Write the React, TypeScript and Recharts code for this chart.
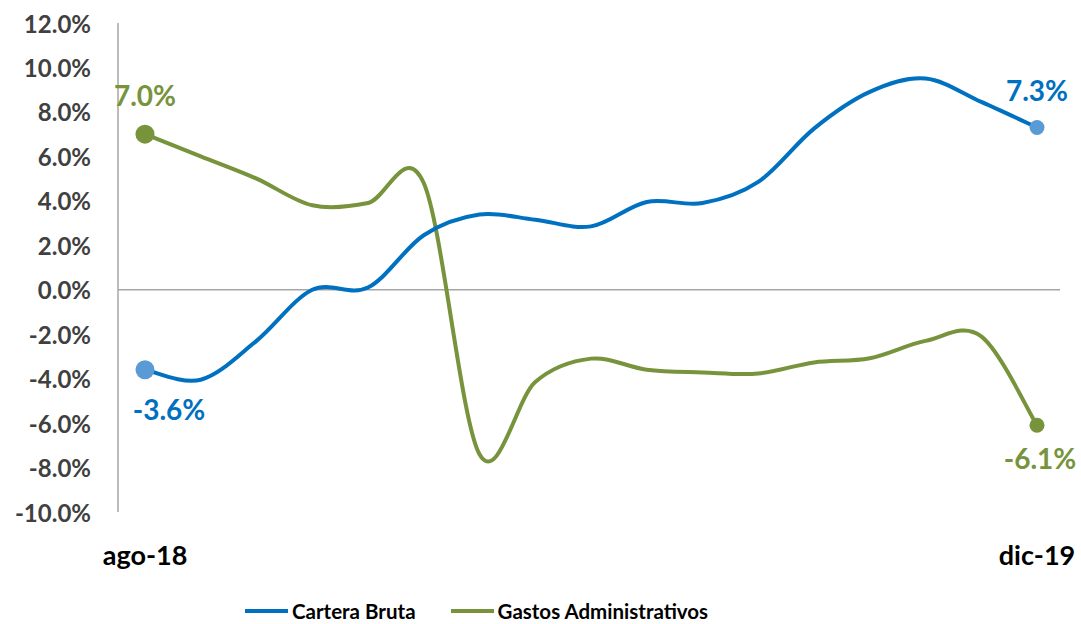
import React from 'react';
import { LineChart, Line, XAxis, YAxis, ReferenceLine, Legend, LabelList } from 'recharts';

const months = ['ago-18', 'sep-18', 'oct-18', 'nov-18', 'dic-18', 'ene-19', 'feb-19', 'mar-19', 'abr-19', 'may-19', 'jun-19', 'jul-19', 'ago-19', 'sep-19', 'oct-19', 'nov-19', 'dic-19'];
const carteraBruta = [-3.6, -4.05, -2.3, 0.0, 0.1, 2.45, 3.38, 3.15, 2.85, 3.95, 3.9, 4.85, 7.25, 8.9, 9.5, 8.45, 7.3];
const gastosAdministrativos = [7.0, 6.0, 5.0, 3.8, 3.9, 4.8, -7.4, -4.15, -3.1, -3.6, -3.72, -3.77, -3.27, -3.08, -2.3, -2.1, -6.1];
const yTicks = [-10, -8, -6, -4, -2, 0, 2, 4, 6, 8, 10, 12];
const xTicks = ['ago-18', 'dic-19'];

const BLUE = '#0070C0';
const BLUE_DOT = '#5B9BD5';
const GREEN = '#77933C';
const FONT = 'Lato, "Open Sans", sans-serif';

const data = months.map((m, i) => ({ month: m, cartera: carteraBruta[i], gastos: gastosAdministrativos[i] }));

function excelSmooth(context: any) {
  let pts: number[][] = [];
  return {
    areaStart() {},
    areaEnd() {},
    lineStart() {
      pts = [];
    },
    point(x: number, y: number) {
      pts.push([+x, +y]);
    },
    lineEnd() {
      const n = pts.length;
      if (!n) return;
      context.moveTo(pts[0][0], pts[0][1]);
      for (let i = 0; i < n - 1; i++) {
        const p0 = pts[i - 1] || pts[i];
        const p1 = pts[i];
        const p2 = pts[i + 1];
        const p3 = pts[i + 2] || p2;
        context.bezierCurveTo(
          p1[0] + (p2[0] - p0[0]) / 6,
          p1[1] + (p2[1] - p0[1]) / 6,
          p2[0] - (p3[0] - p1[0]) / 6,
          p2[1] - (p3[1] - p1[1]) / 6,
          p2[0],
          p2[1]
        );
      }
    },
  };
}

const YTick = (props: any) => {
  const { x, y, payload } = props;
  return (
    <text x={x - 27} y={y} textAnchor="end" dominantBaseline="central" fontFamily={FONT} fontWeight={700} fontSize={24} fill="#404040">
      {Number(payload.value).toFixed(1)}%
    </text>
  );
};

const XTick = (props: any) => {
  const { x, y, payload } = props;
  return (
    <text x={x} y={y + 42} textAnchor="middle" dominantBaseline="central" fontFamily={FONT} fontWeight={700} fontSize={27} fill="#000000">
      {payload.value}
    </text>
  );
};

const makeDot = (color: string) => (props: any) => {
  const { cx, cy, index } = props;
  const last = months.length - 1;
  if (index === 0) return <circle key={`d${index}`} cx={cx} cy={cy} r={9.5} fill={color} stroke="none" />;
  if (index === last) return <circle key={`d${index}`} cx={cx} cy={cy} r={7.5} fill={color} stroke="none" />;
  return <g key={`d${index}`} />;
};

const makeLabel = (color: string, first: [number, number], lastOff: [number, number]) => (props: any) => {
  const { x, y, value, index } = props;
  const last = months.length - 1;
  if (index !== 0 && index !== last) return null;
  const off = index === 0 ? first : lastOff;
  return (
    <text x={x + off[0]} y={y + off[1]} textAnchor="middle" dominantBaseline="central" fontFamily={FONT} fontWeight={700} fontSize={28} fill={color}>
      {Number(value).toFixed(1)}%
    </text>
  );
};

const LegendContent = () => (
  <div style={{ width: 1081, height: 42, position: 'relative', fontFamily: FONT, fontWeight: 700, fontSize: 20.5, color: '#000' }}>
    <div style={{ position: 'absolute', left: 245, top: 17, height: 24, display: 'flex', alignItems: 'center' }}>
      <span style={{ display: 'inline-block', width: 43, height: 4, background: BLUE, marginRight: 4 }} />
      <span>Cartera Bruta</span>
      <span style={{ display: 'inline-block', width: 43, height: 4, background: GREEN, marginLeft: 35, marginRight: 4 }} />
      <span>Gastos Administrativos</span>
    </div>
  </div>
);

export default function App() {
  return (
    <div style={{ position: 'absolute', left: 0, top: 0, width: 1081, height: 624, background: '#fff' }}>
      <LineChart width={1081} height={624} data={data} margin={{ top: 23, right: 21, bottom: 0, left: 0 }}>
        <XAxis
          dataKey="month"
          ticks={xTicks}
          interval={0}
          axisLine={false}
          tickLine={false}
          tickSize={0}
          tickMargin={0}
          height={70}
          padding={{ left: 27, right: 23 }}
          tick={<XTick />}
        />
        <YAxis
          domain={[-10, 12]}
          ticks={yTicks}
          interval={0}
          width={118}
          axisLine={{ stroke: '#A6A6A6', strokeWidth: 1.5 }}
          tickLine={false}
          tickSize={0}
          tickMargin={0}
          tick={<YTick />}
        />
        <ReferenceLine y={0} stroke="#A6A6A6" strokeWidth={1.5} />
        <Legend verticalAlign="bottom" content={<LegendContent />} />
        <Line
          dataKey="gastos"
          name="Gastos Administrativos"
          type={excelSmooth as any}
          stroke={GREEN}
          strokeWidth={4}
          dot={makeDot(GREEN)}
          activeDot={false}
          isAnimationActive={false}
        >
          <LabelList dataKey="gastos" content={makeLabel(GREEN, [0, -39], [3, 33])} />
        </Line>
        <Line
          dataKey="cartera"
          name="Cartera Bruta"
          type={excelSmooth as any}
          stroke={BLUE}
          strokeWidth={4}
          dot={makeDot(BLUE_DOT)}
          activeDot={false}
          isAnimationActive={false}
        >
          <LabelList dataKey="cartera" content={makeLabel(BLUE, [24, 39], [0, -37])} />
        </Line>
      </LineChart>
    </div>
  );
}
